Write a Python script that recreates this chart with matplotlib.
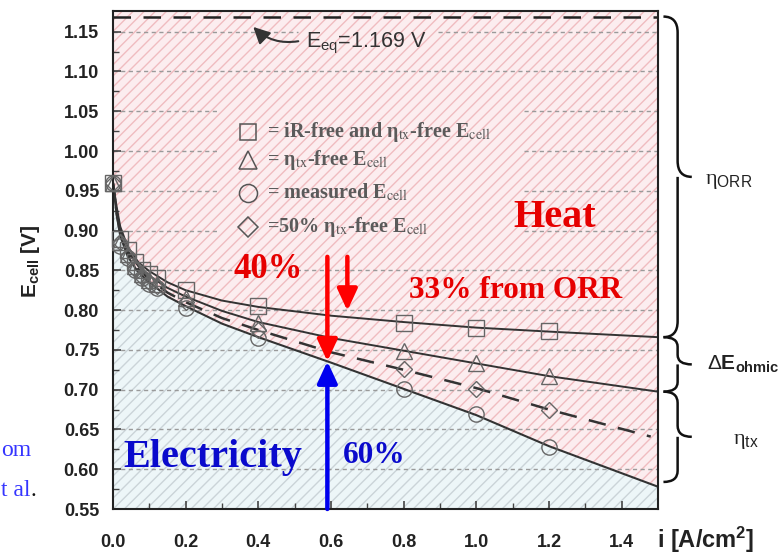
import numpy as np
import matplotlib
matplotlib.use("Agg")
import matplotlib.pyplot as plt
import matplotlib.transforms as mtransforms
from matplotlib.path import Path
from matplotlib.patches import PathPatch

plt.rcParams['hatch.linewidth'] = 1.0
plt.rcParams['mathtext.fontset'] = 'custom'
plt.rcParams['mathtext.rm'] = 'Liberation Sans'
plt.rcParams['mathtext.bf'] = 'Liberation Sans:bold'
plt.rcParams['mathtext.it'] = 'Liberation Sans:italic'
plt.rcParams['mathtext.sf'] = 'Liberation Sans'

# ---- measured cell voltages [V] vs current density [A/cm^2] ----
i_meas = [0.0, 0.02, 0.04, 0.06, 0.08, 0.10, 0.12, 0.2, 0.4, 0.8, 1.0, 1.2]
e_ir_tx_free = [0.96, 0.890, 0.875, 0.860, 0.850, 0.845, 0.840, 0.825, 0.805, 0.784, 0.777, 0.774]
e_tx_free = [0.96, 0.885, 0.870, 0.855, 0.845, 0.838, 0.833, 0.815, 0.784, 0.749, 0.733, 0.717]
e_measured = [0.96, 0.880, 0.865, 0.850, 0.840, 0.833, 0.828, 0.803, 0.765, 0.701, 0.669, 0.628]
e_half_tx_free = [0.96, 0.885, 0.868, 0.852, 0.842, 0.835, 0.830, 0.810, 0.775, 0.726, 0.701, 0.674]

# ---- model curves ----
i_fit = [0.0, 0.01, 0.02, 0.04, 0.07, 0.10, 0.15, 0.2, 0.3, 0.4, 0.6, 0.8, 1.0, 1.2, 1.5]
fit_ir_tx_free = [0.96, 0.930, 0.905, 0.880, 0.860, 0.849, 0.835, 0.825, 0.812, 0.804, 0.793, 0.785, 0.778, 0.773, 0.766]
fit_tx_free = [0.96, 0.925, 0.900, 0.875, 0.855, 0.843, 0.828, 0.817, 0.799, 0.785, 0.765, 0.749, 0.733, 0.717, 0.6975]
fit_measured = [0.96, 0.920, 0.893, 0.868, 0.847, 0.835, 0.817, 0.805, 0.783, 0.766, 0.734, 0.701, 0.668, 0.629, 0.578]
i_fit_half = [0.0, 0.01, 0.02, 0.04, 0.07, 0.10, 0.15, 0.2, 0.3, 0.4, 0.6, 0.8, 1.0, 1.2, 1.48]
fit_half_tx_free = [0.96, 0.922, 0.897, 0.872, 0.851, 0.839, 0.822, 0.810, 0.790, 0.775, 0.747, 0.725, 0.702, 0.675, 0.641]

E_EQ = 1.169
i_op = 0.59            # operating point for the heat / electricity split
heat_pct = "40%"
heat_orr_pct = "33% from ORR"
elec_pct = "60%"

x_ticks = [0.0, 0.2, 0.4, 0.6, 0.8, 1.0, 1.2, 1.4]
y_ticks = [0.55, 0.60, 0.65, 0.70, 0.75, 0.80, 0.85, 0.90, 0.95, 1.00, 1.05, 1.10, 1.15]

XMIN, XMAX, YMIN, YMAX = 0.0, 1.5, 0.55, 1.176

fig = plt.figure(figsize=(7.81, 5.59), dpi=100)
ax = fig.add_axes([113 / 781, 50 / 559, 545 / 781, 498 / 559])
ax.set_xlim(XMIN, XMAX)
ax.set_ylim(YMIN, YMAX)

# shaded regions: electricity below the measured curve, heat above it
ax.fill_between(i_fit, YMIN, fit_measured, facecolor='#edf6f8', edgecolor='#cbd4d8',
                hatch='///', linewidth=0, zorder=0)
ax.fill_between(i_fit, fit_measured, YMAX, facecolor='#fcedef', edgecolor='#f0bcc0',
                hatch='///', linewidth=0, zorder=0)

# dashed horizontal grid, interrupted behind the key and the E_eq label
gaps = {1.15: (0.51, 0.895), 1.05: (0.29, 1.13), 1.00: (0.29, 1.13),
        0.95: (0.29, 1.13), 0.90: (0.29, 1.13)}
for yv in y_ticks[1:]:
    key = round(yv, 2)
    spans = [(XMIN, XMAX)]
    if key in gaps:
        a, b = gaps[key]
        spans = [(XMIN, a), (b, XMAX)]
    for a, b in spans:
        ax.hlines(yv, a, b, colors='#9a9a9a', linestyles=(0, (3, 2.5)), lw=1.0, zorder=1)

# equilibrium potential
ax.axhline(E_EQ, color='#222222', lw=1.8, dashes=(7, 5), zorder=2)

# model curves
ax.plot(i_fit, fit_ir_tx_free, color='#333333', lw=1.4, zorder=2)
ax.plot(i_fit, fit_tx_free, color='#333333', lw=1.4, zorder=2)
ax.plot(i_fit, fit_measured, color='#333333', lw=1.5, zorder=2)
ax.plot(i_fit_half, fit_half_tx_free, color='#333333', lw=1.8, dashes=(7, 5), zorder=2)

mk = dict(linestyle='none', mfc='none', mec='#666666', mew=1.0, zorder=3, clip_on=False)
ax.plot(i_meas, e_ir_tx_free, marker='s', ms=11, **mk)
ax.plot(i_meas, e_tx_free, marker='^', ms=12, **mk)
ax.plot(i_meas, e_measured, marker='o', ms=11, **mk)
ax.plot(i_meas, e_half_tx_free, marker='D', ms=8.5, **mk)

# key
key_rows = [('s', 11, "= iR-free and η$_{\\mathrm{tx}}$-free E$_{\\mathrm{cell}}$"),
            ('^', 13, "= η$_{\\mathrm{tx}}$-free E$_{\\mathrm{cell}}$"),
            ('o', 13, "= measured E$_{\\mathrm{cell}}$"),
            ('D', 10, "=50% η$_{\\mathrm{tx}}$-free E$_{\\mathrm{cell}}$")]
key_y = [0.757, 0.701, 0.635, 0.566]
for (m, ms, label), yk in zip(key_rows, key_y):
    ax.plot([0.248], [yk], marker=m, ms=ms, mfc='none', mec='#555555', mew=1.1,
            transform=ax.transAxes, zorder=4)
    ax.text(0.282, yk, label, transform=ax.transAxes, va='center', ha='left',
            fontsize=14.5, fontfamily='Liberation Serif', fontweight='bold',
            color='#5a5a5a', math_fontfamily='stix', zorder=4)

# E_eq label with curved pointer
ax.text(0.53, 1.1298, "E$_{\\mathrm{eq}}$=1.169 V", fontsize=15.5, color='#333333',
        fontfamily='Liberation Sans', va='baseline', ha='left', zorder=4)
ax.annotate('', xy=(0.386, 1.156), xytext=(0.51, 1.138),
            arrowprops=dict(arrowstyle='-|>,head_length=0.5,head_width=0.25',
                            connectionstyle='arc3,rad=-0.25', color='#333333',
                            lw=1.5, shrinkA=0, shrinkB=0, mutation_scale=20),
            zorder=4)

# heat / electricity annotations
serif_b = dict(fontfamily='Liberation Serif', fontweight='bold', va='baseline', ha='left', zorder=5)
ax.text(1.103, 0.904, "Heat", fontsize=29, color='#e60000', **serif_b)
ax.text(0.331, 0.841, heat_pct, fontsize=25, color='#e60000', **serif_b)
ax.text(0.814, 0.815, heat_orr_pct, fontsize=22.5, color='#e60000', **serif_b)
ax.text(0.0276, 0.6027, "Electricity", fontsize=29, color='#0a0acc', **serif_b)
ax.text(0.634, 0.6077, elec_pct, fontsize=22.5, color='#0a0acc', **serif_b)

e_op = float(np.interp(i_op, i_fit, fit_measured))
e_op_orr = float(np.interp(0.645, i_fit, fit_ir_tx_free))
arrow_kw = dict(arrowstyle='-|>,head_length=0.65,head_width=0.3', lw=3.2,
                shrinkA=0, shrinkB=0, mutation_scale=20)
ax.annotate('', xy=(i_op, e_op), xytext=(i_op, 0.867),
            arrowprops=dict(color='#ff0000', **arrow_kw), zorder=6)
ax.annotate('', xy=(0.645, e_op_orr + 0.008), xytext=(0.645, 0.867),
            arrowprops=dict(color='#ff0000', **arrow_kw), zorder=6)
ax.annotate('', xy=(i_op, e_op), xytext=(i_op, YMIN),
            arrowprops=dict(color='#0000ee', **arrow_kw), zorder=6)

# axes styling
for s in ax.spines.values():
    s.set_linewidth(1.5)
    s.set_color('#222222')
ax.set_xticks(x_ticks)
ax.set_yticks(y_ticks)
ax.set_xticklabels([f"{v:.1f}" for v in x_ticks])
ax.set_yticklabels([f"{v:.2f}" for v in y_ticks])
ax.set_xticks(np.arange(0.1, 1.5, 0.2), minor=True)
ax.set_yticks(np.arange(0.575, 1.17, 0.05), minor=True)
ax.tick_params(which='both', direction='in', color='#444444')
ax.tick_params(which='major', length=6, width=1.2)
ax.tick_params(which='minor', length=4, width=1.0)
ax.tick_params(axis='y', pad=10, labelsize=13)
ax.tick_params(axis='x', pad=18, labelsize=13)
for lab in ax.get_xticklabels() + ax.get_yticklabels():
    lab.set_fontweight('bold')
    lab.set_fontfamily('Liberation Sans')
    lab.set_color('#222222')

ax.text(-0.152, 0.498, "$\\mathbf{E}_{\\mathbf{cell}}$ [V]", transform=ax.transAxes,
        rotation=90, ha='center', va='center', fontsize=15, fontweight='bold',
        fontfamily='Liberation Sans', color='#222222')
ax.text(0.998, -0.078, "i [A/cm$^{\\mathbf{2}}$]", transform=ax.transAxes,
        ha='left', va='baseline', fontsize=17, fontweight='bold',
        fontfamily='Liberation Sans', color='#222222', clip_on=False)

# curly braces on the right showing the loss breakdown
btrans = mtransforms.blended_transform_factory(ax.transAxes, ax.transData)


def brace(ytop, ybot, x0=1.010, xm=1.036, xt=1.062, r=0.014):
    ymid = 0.5 * (ytop + ybot)
    verts = [(x0, ytop), (xm, ytop), (xm, ytop - r), (xm, ymid + r),
             (xm, ymid), (xt, ymid),
             (xm, ymid), (xm, ymid - r), (xm, ybot + r),
             (xm, ybot), (x0, ybot)]
    codes = [Path.MOVETO, Path.CURVE3, Path.CURVE3, Path.LINETO,
             Path.CURVE3, Path.CURVE3,
             Path.MOVETO, Path.CURVE3, Path.LINETO,
             Path.CURVE3, Path.CURVE3]
    ax.add_patch(PathPatch(Path(verts, codes), facecolor='none', edgecolor='#111111',
                           lw=1.8, transform=btrans, clip_on=False))
    return ymid


y_orr = brace(E_EQ, fit_ir_tx_free[-1], r=0.02)
y_ohm = brace(fit_ir_tx_free[-1], fit_tx_free[-1], r=0.012)
y_tx = brace(fit_tx_free[-1], fit_measured[-1] + 0.006, r=0.014)

ax.text(1.086, y_orr - 0.006, "η$_{\\mathrm{ORR}}$", transform=btrans, va='center', ha='left',
        fontsize=16, fontfamily='Liberation Serif', color='#222222')
ax.text(1.09, y_ohm, "$\\Delta\\mathbf{E}_{\\mathbf{ohmic}}$", transform=btrans, va='center',
        ha='left', fontsize=15, color='#222222')
ax.text(1.138, y_tx - 0.006, "η$_{\\mathrm{tx}}$", transform=btrans, va='center', ha='left',
        fontsize=16, fontfamily='Liberation Serif', color='#222222')

# attribution fragments at the left edge
fig.text(1 / 781, 1 - 456 / 559, "om", fontsize=17, fontfamily='Liberation Serif',
         color='#3535ff', ha='left', va='baseline')
fig.text(1 / 781, 1 - 496 / 559, "t al", fontsize=17, fontfamily='Liberation Serif',
         color='#3535ff', ha='left', va='baseline')
fig.text(31 / 781, 1 - 496 / 559, ".", fontsize=17, fontfamily='Liberation Serif',
         color='#111111', ha='left', va='baseline')

fig.savefig("out.png", dpi=100)
